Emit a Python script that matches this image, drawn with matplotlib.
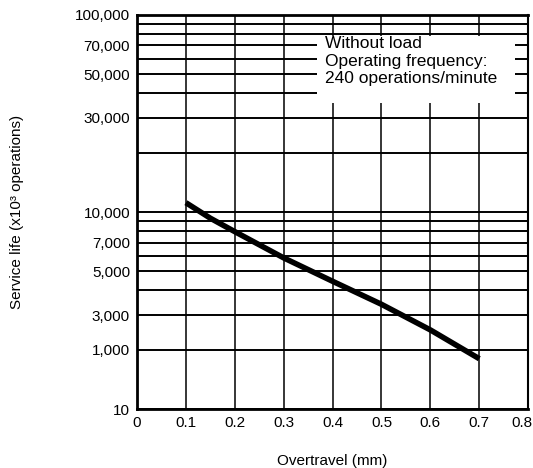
import matplotlib
matplotlib.use('Agg')
import matplotlib.pyplot as plt
import matplotlib.transforms as mtransforms
from matplotlib.patches import Rectangle

plt.rcParams['font.family'] = ['Liberation Sans', 'DejaVu Sans']

overtravel = [0.1, 0.15, 0.2, 0.3, 0.4, 0.5, 0.6, 0.7]
life = [11150, 9300, 7950, 5850, 4450, 3400, 2520, 1800]

x_ticks = [0, 0.1, 0.2, 0.3, 0.4, 0.5, 0.6, 0.7, 0.8]
x_labels = ['0', '0.1', '0.2', '0.3', '0.4', '0.5', '0.6', '0.7', '0.8']
y_ticks = [1000, 2000, 3000, 5000, 7000, 10000, 30000, 50000, 70000, 100000]
y_labels = ['10', '1,000', '3,000', '5,000', '7,000', '10,000',
            '30,000', '50,000', '70,000', '100,000']
grid_y = [1000, 2000, 3000, 4000, 5000, 6000, 7000, 8000, 9000,
          10000, 20000, 30000, 40000, 50000, 60000, 70000, 80000, 90000, 100000]
note = 'Without load\nOperating frequency:\n240 operations/minute'

fig = plt.figure(figsize=(5.33, 4.68), dpi=100)
ax = fig.add_axes([0.257, 0.126, 0.734, 0.842])
ax.set_yscale('log')
ax.set_xlim(0, 0.8)
ax.set_ylim(1000, 100000)

for g in grid_y:
    ax.axhline(g, color='black', lw=1.4, zorder=1)
for g in x_ticks[1:-1]:
    ax.axvline(g, color='black', lw=1.1, zorder=1)

# white box behind the note
ax.add_patch(Rectangle((0.368, 35800), 0.405, 78500 - 35800,
                       facecolor='white', edgecolor='none', zorder=2))
ax.text(0.385, 78000, note, fontsize=12.5, va='top', ha='left',
        linespacing=1.2, zorder=3)

ax.plot(overtravel, life, color='black', lw=4, solid_capstyle='butt', zorder=4)

ax.set_xticks(x_ticks)
ax.set_xticklabels(x_labels, fontsize=11)
ax.set_yticks(y_ticks)
ax.set_yticklabels(y_labels, fontsize=11)
ax.minorticks_off()
ax.tick_params(length=0, pad=5)

# last x label sits a little inside the frame
last = ax.get_xticklabels()[-1]
last.set_transform(last.get_transform() +
                   mtransforms.ScaledTranslation(-6 / 100, 0, fig.dpi_scale_trans))

for s in ['left', 'bottom', 'top']:
    ax.spines[s].set_linewidth(2)
ax.spines['right'].set_linewidth(1.5)

ax.set_xlabel('Overtravel (mm)', fontsize=11, labelpad=17)
ax.set_ylabel('Service life (x10³ operations)', fontsize=11, labelpad=37)

fig.savefig('out.png', dpi=100)
